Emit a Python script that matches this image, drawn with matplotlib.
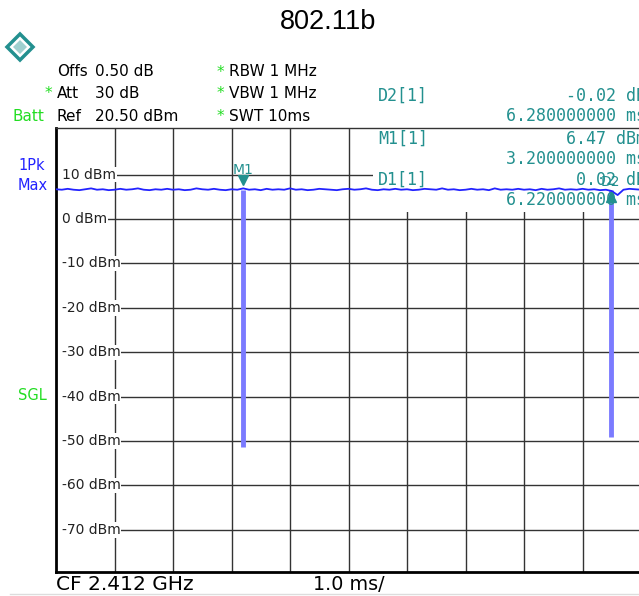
import matplotlib.pyplot as plt
from matplotlib.patches import Polygon, Rectangle
from matplotlib.lines import Line2D

# trace samples every 0.1 ms (dBm)
trace_ms = [i / 10 for i in range(101)]
trace_dbm = [6.7, 6.6, 6.8, 6.6, 6.5, 6.7, 6.9, 6.6, 6.7, 6.5,
             6.6, 6.8, 6.6, 6.7, 6.9, 6.6, 6.5, 6.7, 6.6, 6.8,
             6.6, 6.7, 6.5, 6.6, 6.9, 6.7, 6.6, 6.8, 6.6, 6.5,
             6.7, 6.6, 6.9, 6.6, 6.7, 6.5, 6.8, 6.6, 6.7, 6.6,
             6.9, 6.6, 6.7, 6.5, 6.6, 6.8, 6.7, 6.6, 6.5, 6.7,
             6.8, 6.6, 6.7, 6.9, 6.6, 6.5, 6.7, 6.6, 6.8, 6.6,
             6.7, 6.5, 6.6, 6.8, 6.7, 6.6, 6.9, 6.6, 6.7, 6.5,
             6.6, 6.8, 6.6, 6.7, 6.5, 6.9, 6.6, 6.7, 6.6, 6.8,
             6.6, 6.7, 6.5, 6.8, 6.6, 6.7, 6.9, 6.6, 6.7, 6.6,
             6.8, 6.6, 6.7, 6.5, 6.6, 6.3, 5.4, 6.6, 6.8, 6.7, 6.6]

# pulses (burst gaps) seen as deep dips
dip_ms = [3.2, 9.48]
dip_dbm = [-51.3, -49.0]

y_grid = [10, 0, -10, -20, -30, -40, -50, -60, -70]
y_labels = ["10 dBm", "0 dBm", "-10 dBm", "-20 dBm", "-30 dBm",
            "-40 dBm", "-50 dBm", "-60 dBm", "-70 dBm"]

header_left = [("Offs", "0.50 dB"), ("Att", "30 dB"), ("Ref", "20.50 dBm")]
header_right = ["RBW 1 MHz", "VBW 1 MHz", "SWT 10ms"]
marker_info = [("D2[1]", "-0.02 dB", "6.280000000 ms"),
               ("M1[1]", "6.47 dBm", "3.200000000 ms"),
               ("D1[1]", "0.02 dB", "6.220000000 ms")]

TEAL = "#23908f"
GREEN = "#22dd22"
BLUE = "#2323ff"
W, H = 639, 596


def px(x, y):
    return x / W, 1 - y / H


fig = plt.figure(figsize=(6.39, 5.96), dpi=100)
ax = fig.add_axes([56 / W, 24 / H, 585 / W, 444 / H])
ax.set_xlim(0, 10)
ax.set_ylim(-79.5, 20.5)
ax.set_xticks([])
ax.set_yticks([])
for s in ["left", "bottom"]:
    ax.spines[s].set_linewidth(2)
ax.spines["top"].set_linewidth(1)
ax.spines["top"].set_color("#333333")
ax.spines["right"].set_visible(False)

for x in range(1, 10):
    ax.axvline(x, color="#333333", lw=1, zorder=1)
for y in y_grid:
    ax.axhline(y, xmin=0.012, color="#333333", lw=1, zorder=1)

# marker info area blanks the grid
ax.add_patch(Rectangle((5.42, 1.6), 5, 18.9, facecolor="white", edgecolor="none", zorder=1.5))

for y, lab in zip(y_grid, y_labels):
    ax.text(0.1, y, lab, fontsize=10, ha="left", va="center", color="#222222", zorder=2,
            bbox=dict(facecolor="white", edgecolor="none", pad=0.5))

ax.plot(trace_ms, trace_dbm, color=BLUE, lw=1.3, zorder=3)
for t, d in zip(dip_ms, dip_dbm):
    ax.plot([t, t], [6.5, d], color="#7b7bff", lw=3.5, zorder=2.8, solid_capstyle="butt")

# markers
ax.plot([3.2], [8.7], marker="v", color=TEAL, markersize=7, zorder=4)
ax.text(3.2, 11.0, "M1", color=TEAL, fontsize=10, ha="center", va="center", zorder=4)
ax.plot([9.48], [4.9], marker="^", color=TEAL, markersize=7, zorder=4)
ax.text(9.47, 8.3, "D2", color=TEAL, fontsize=10, ha="center", va="center", zorder=4)

# title and header
fig.text(*px(328, 22), "802.11b", fontsize=19.5, family="Liberation Sans", ha="center", va="center")

logo = [(20, 34), (33, 47), (20, 60), (7, 47)]
fig.add_artist(Polygon([(x / 100, (H - y) / 100) for x, y in logo], closed=True,
                       facecolor="white", edgecolor=TEAL, lw=2.5, transform=fig.dpi_scale_trans))
inner = [(20, 40), (27, 47), (20, 54), (13, 47)]
fig.add_artist(Polygon([(x / 100, (H - y) / 100) for x, y in inner], closed=True,
                       facecolor="#9fd0cf", edgecolor="none", transform=fig.dpi_scale_trans))

rows_y = [72, 94, 116]
for (k, v), r, yy in zip(header_left, header_right, rows_y):
    fig.text(*px(57, yy), k, fontsize=11, ha="left", va="center")
    fig.text(*px(95, yy), v, fontsize=11, ha="left", va="center")
    fig.text(*px(217, yy), "*", fontsize=11, color=GREEN, ha="left", va="center")
    fig.text(*px(229, yy), r, fontsize=11, ha="left", va="center")
fig.text(*px(45, 94), "*", fontsize=11, color=GREEN, ha="left", va="center")
fig.text(*px(12, 116), "Batt", fontsize=11, color=GREEN, ha="left", va="center")

fig.text(*px(18, 165), "1Pk", fontsize=10.5, color=BLUE, ha="left", va="center")
fig.text(*px(18, 185), "Max", fontsize=10.5, color=BLUE, ha="left", va="center")
fig.text(*px(18, 395), "SGL", fontsize=10.5, color=GREEN, ha="left", va="center")

info_y = [(96, 116), (139, 159), (180, 200)]
for (name, lvl, tm), (y1, y2) in zip(marker_info, info_y):
    fig.text(*px(378, y1), name, fontsize=12, family="DejaVu Sans Mono", color=TEAL,
             ha="left", va="center", zorder=5)
    fig.text(*px(646, y1), lvl, fontsize=12, family="DejaVu Sans Mono", color=TEAL,
             ha="right", va="center", zorder=5)
    fig.text(*px(646, y2), tm, fontsize=12, family="DejaVu Sans Mono", color=TEAL,
             ha="right", va="center", zorder=5)

fig.text(*px(56, 585), "CF 2.412 GHz", fontsize=14.5, ha="left", va="center")
fig.text(*px(313, 585), "1.0 ms/", fontsize=13.8, ha="left", va="center")
fig.add_artist(Line2D([10 / W, 1], [1 - 594 / H] * 2, color="#dddddd", lw=1))

fig.savefig("out.png", dpi=100)
